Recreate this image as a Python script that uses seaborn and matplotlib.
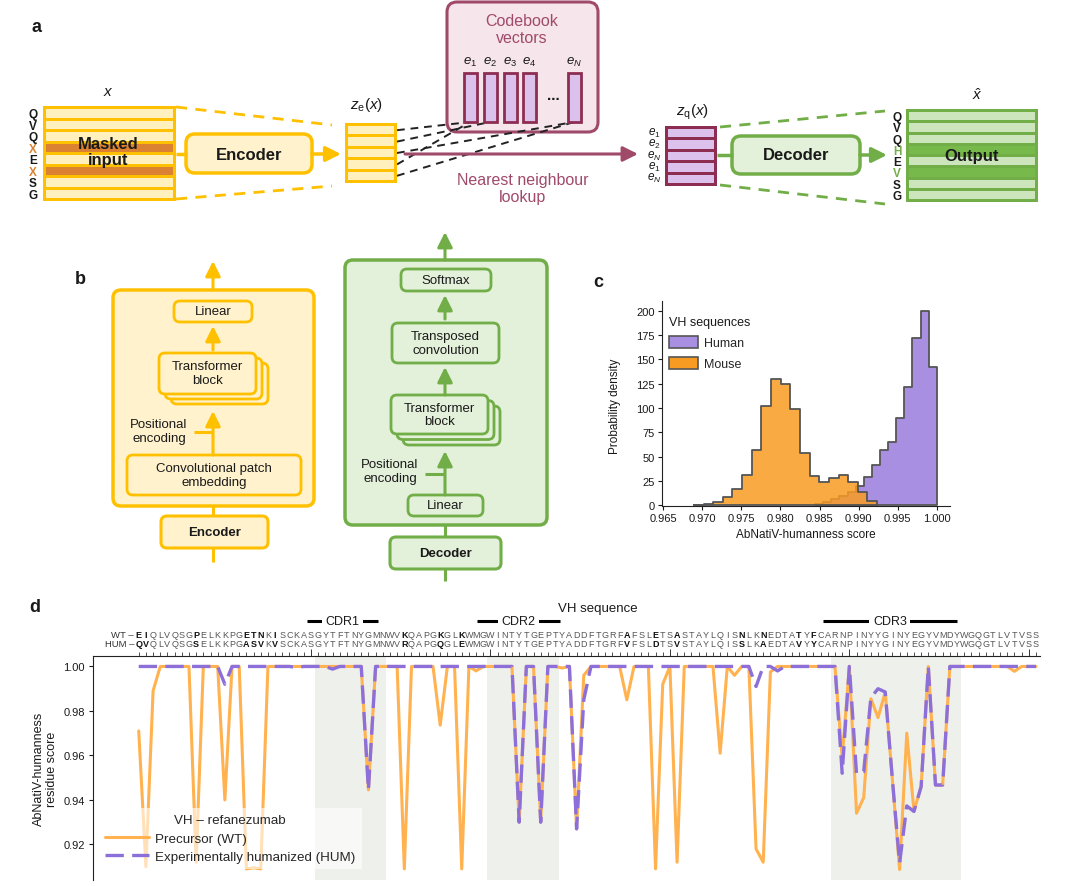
import numpy as np
import pandas as pd
import matplotlib
matplotlib.use('Agg')
import matplotlib.pyplot as plt
import matplotlib.transforms as mtransforms
from matplotlib.patches import FancyBboxPatch, Rectangle, Patch
from matplotlib.lines import Line2D
import seaborn as sns


# --- 1. Data ---
# panel c: histogram bins (probability density)
HUMAN_EDGES = [0.98444, 0.98548, 0.98651, 0.98755, 0.98859, 0.98963, 0.99066, 0.99170,
               0.99274, 0.99378, 0.99481, 0.99585, 0.99689, 0.99793, 0.99896, 1.00000]
HUMAN_DENSITY = [1, 3, 6, 10, 14, 20, 29, 41, 57, 65, 90, 122, 172, 200, 142]

MOUSE_EDGES = [0.96893, 0.97016, 0.97140, 0.97263, 0.97386, 0.97510, 0.97633, 0.97756,
               0.97879, 0.98003, 0.98126, 0.98249, 0.98373, 0.98496, 0.98619, 0.98743,
               0.98866, 0.98989, 0.99112, 0.99236]
MOUSE_DENSITY = [0.5, 1, 3, 8, 17, 31, 57, 102, 130, 125, 99, 54, 30, 24, 28, 31, 24, 14, 4]

# panel d: per-residue humanness scores
WT_SEQ = 'EIQLVQSGPELKKPGETNKISCKASGYTFTNYGMNWVKQAPGKGLKWMGWINTYTGEPTYADDFTGRFAFSLETSASTAYLQISNLKNEDTATYFCARNPINYYGINYEGYVMDYWGQGTLVTVSS'
HUM_SEQ = 'QVQLVQSGSELKKPGASVKVSCKASGYTFTNYGMNWVRQAPGQGLEWMGWINTYTGEPTYADDFTGRFVFSLDTSVSTAYLQISSLKAEDTAVYYCARNPINYYGINYEGYVMDYWGQGTLVTVSS'
RESIDUES = list(range(1, 127))

WT_SCORE = [
    0.971, 0.910, 0.989, 1.0, 1.0, 1.0, 1.0, 1.0, 0.912, 1.0,
    1.0, 1.0, 0.940, 1.0, 1.0, 0.909, 0.9095, 0.909, 1.0, 1.0,
    1.0, 1.0, 1.0, 1.0, 1.0, 1.0, 1.0, 1.0, 1.0, 1.0,
    1.0, 1.0, 0.9445, 1.0, 1.0, 1.0, 1.0, 0.909, 1.0, 1.0,
    1.0, 1.0, 0.9736, 1.0, 1.0, 0.909, 1.0, 0.998, 1.0, 1.0,
    1.0, 1.0, 1.0, 0.930, 1.0, 1.0, 0.930, 1.0, 1.0, 0.9993,
    1.0, 0.927, 0.996, 1.0, 1.0, 1.0, 1.0, 1.0, 0.985, 1.0,
    1.0, 1.0, 0.909, 0.992, 1.0, 0.912, 1.0, 1.0, 1.0, 1.0,
    1.0, 0.961, 1.0, 0.996, 1.0, 1.0, 0.918, 0.912, 0.9975, 1.0,
    1.0, 1.0, 1.0, 1.0, 1.0, 1.0, 1.0, 1.0, 0.959, 1.0,
    0.934, 0.941, 0.9855, 0.977, 0.9885, 0.949, 0.9087, 0.970, 0.935, 0.946,
    1.0, 0.9467, 0.9467, 1.0, 1.0, 1.0, 1.0, 1.0, 1.0, 1.0,
    1.0, 1.0, 0.9978, 1.0, 1.0, 1.0]

HUM_SCORE = [
    1.0, 1.0, 1.0, 1.0, 1.0, 1.0, 1.0, 1.0, 1.0, 1.0,
    1.0, 1.0, 0.992, 1.0, 1.0, 1.0, 1.0, 1.0, 1.0, 1.0,
    1.0, 1.0, 0.9995, 1.0, 1.0, 1.0, 1.0, 0.9988, 1.0, 1.0,
    1.0, 1.0, 0.9445, 1.0, 1.0, 1.0, 1.0, 1.0, 1.0, 1.0,
    1.0, 1.0, 1.0, 1.0, 1.0, 1.0, 1.0, 1.0, 1.0, 1.0,
    1.0, 1.0, 1.0, 0.930, 1.0, 1.0, 0.930, 1.0, 1.0, 1.0,
    1.0, 0.927, 0.985, 1.0, 1.0, 1.0, 1.0, 1.0, 1.0, 1.0,
    1.0, 1.0, 1.0, 1.0, 1.0, 1.0, 1.0, 1.0, 1.0, 1.0,
    1.0, 1.0, 1.0, 1.0, 1.0, 1.0, 0.991, 1.0, 1.0, 0.998,
    1.0, 1.0, 1.0, 1.0, 1.0, 1.0, 1.0, 1.0, 0.952, 1.0,
    0.9516, 0.9527, 0.986, 0.990, 0.9885, 0.949, 0.9116, 0.9373, 0.9348, 0.946,
    1.0, 0.9467, 0.9467, 1.0, 1.0, 1.0, 1.0, 1.0, 1.0, 1.0,
    1.0, 1.0, 1.0, 1.0, 1.0, 1.0]

# CDR shaded regions and label bars (residue coordinates)
CDR_NAMES = ['CDR1', 'CDR2', 'CDR3']
CDR_SHADE = [(25.5, 35.5), (49.5, 59.5), (97.5, 115.5)]
CDR_BARS = [(24.4, 34.3), (48.1, 59.7), (96.3, 115.0)]

# --- 2. Style ---
sns.set_theme(style='ticks')
plt.rcParams['font.family'] = ['Liberation Sans', 'DejaVu Sans']
plt.rcParams['mathtext.fontset'] = 'custom'
plt.rcParams['mathtext.rm'] = 'Liberation Sans'
plt.rcParams['mathtext.it'] = 'Liberation Sans:italic'
plt.rcParams['mathtext.bf'] = 'Liberation Sans:bold'
plt.rcParams['axes.linewidth'] = 0.8
plt.rcParams['axes.edgecolor'] = '#222222'

YEL_EDGE = '#ffc000'
YEL_FILL = '#fff0bd'
YEL_BOX = '#fff2cc'
MASK = '#da8231'
MAROON = '#a04a6a'
MAROON_DK = '#8e2d52'
LAV = '#dcc1ec'
PINK = '#f6e5ea'
GRN_EDGE = '#72ae48'
GRN_FILL = '#cde5bd'
GRN_BOX = '#e3f0da'
GRN_HI = '#78b94c'
ORANGE = '#ffb24f'
PURPLE = '#8d6fd9'
HIST_PURPLE = '#a98fe2'
HIST_ORANGE = '#f89b22'
SHADE = '#eef0ec'
TXT = '#1a1a1a'

fig = plt.figure(figsize=(10.8, 8.87), dpi=100)

# schematic canvas in pixel units
ax0 = fig.add_axes([0, 0, 1, 1])
ax0.set_xlim(0, 1080)
ax0.set_ylim(887, 0)
ax0.axis('off')


def txt(x, y, s, size=9, **kw):
    kw.setdefault('ha', 'center')
    kw.setdefault('va', 'center')
    kw.setdefault('color', TXT)
    ax0.text(x, y, s, fontsize=size, **kw)


def rbox(x0, y0, x1, y1, fc, ec, lw=2.0, r=6, z=2):
    ax0.add_patch(FancyBboxPatch((x0, y0), x1 - x0, y1 - y0,
                                 boxstyle=f'round,pad=0,rounding_size={r}',
                                 fc=fc, ec=ec, lw=lw, zorder=z))


def arrow(x0, y0, x1, y1, c, lw=2.0):
    ax0.annotate('', xy=(x1, y1), xytext=(x0, y0),
                 arrowprops=dict(arrowstyle='-|>,head_length=0.9,head_width=0.45',
                                 mutation_scale=10, color=c, lw=lw,
                                 shrinkA=0, shrinkB=0), zorder=3)


def seg(x0, y0, x1, y1, c, lw=2.0, ls='-', z=3):
    ax0.plot([x0, x1], [y0, y1], color=c, lw=lw, ls=ls, zorder=z,
             solid_capstyle='butt', dash_capstyle='butt')


def stripes(x0, y0, x1, y1, n, ec, fc, hi=(), hc=None, g=3):
    ax0.add_patch(Rectangle((x0, y0), x1 - x0, y1 - y0, fc=ec, ec='none', zorder=2))
    sh = (y1 - y0 - (n + 1) * g) / n
    centres = []
    for k in range(n):
        top = y0 + g + k * (sh + g)
        ax0.add_patch(Rectangle((x0 + g, top), x1 - x0 - 2 * g, sh,
                                fc=hc if k in hi else fc, ec='none', zorder=2))
        centres.append(top + sh / 2)
    return centres


# --- 3. Panel a ---
txt(37, 27, 'a', 13, fontweight='bold')

txt(108, 92, r'$x$', 11)
rows = stripes(43, 107, 176, 202, 8, YEL_EDGE, YEL_FILL, hi=(3, 5), hc=MASK)
for y, ch in zip(rows, 'QVQXEXSG'):
    txt(33, y + 1, ch, 8.5, fontweight='bold', color=MASK if ch == 'X' else TXT)
txt(108, 152.5, 'Masked\ninput', 12, fontweight='bold', linespacing=1.05, zorder=4)

seg(176, 108, 332, 126, YEL_EDGE, 2.0, (0, (4, 3)))
seg(176, 200, 332, 187, YEL_EDGE, 2.0, (0, (4, 3)))

seg(176, 155, 187, 155, YEL_EDGE, 2.5)
rbox(186, 135, 312, 174, YEL_BOX, YEL_EDGE, lw=2.5, r=9)
txt(249, 155, 'Encoder', 12, fontweight='bold', zorder=4)
arrow(312, 155, 341, 155, YEL_EDGE, 2.5)

txt(366, 105, r'$z_\mathrm{e}(x)$', 11)
ze_rows = stripes(345, 124, 397, 184, 5, YEL_EDGE, YEL_FILL)

# codebook
rbox(447, 3, 598, 133, PINK, MAROON, lw=2.2, r=10, z=1)
txt(522, 30, 'Codebook\nvectors', 11.5, color=MAROON, linespacing=1.15)
bar_x = [470, 490, 510, 529.5, 574]
for bx, lab in zip(bar_x, [r'$e_1$', r'$e_2$', r'$e_3$', r'$e_4$', r'$e_N$']):
    ax0.add_patch(Rectangle((bx - 6.5, 74), 13, 49, fc=LAV, ec=MAROON_DK, lw=2, zorder=2))
    txt(bx, 62, lab, 9.5)
txt(553, 96, '...', 11, fontweight='bold')

for y, tx in zip(ze_rows, [470, 490, 574, 470, 574]):
    seg(397, y, tx, 123, '#222222', 1.4, (0, (4, 3)), z=1.5)

arrow(405, 155, 638, 155, MAROON, 2.2)
txt(523, 189, 'Nearest neighbour\nlookup', 11.5, color=MAROON, linespacing=1.2)

txt(692, 112, r'$z_\mathrm{q}(x)$', 11)
zq_rows = stripes(665, 127, 717, 187, 5, MAROON_DK, LAV)
for y, lab in zip(zq_rows, [r'$e_1$', r'$e_2$', r'$e_N$', r'$e_1$', r'$e_N$']):
    txt(654, y - 1, lab, 8.5)

seg(720, 128, 885, 112, GRN_EDGE, 2.0, (0, (4, 3)))
seg(720, 186, 885, 205, GRN_EDGE, 2.0, (0, (4, 3)))
seg(717, 156, 733, 156, GRN_EDGE, 2.5)
rbox(732, 137, 860, 175, GRN_BOX, GRN_EDGE, lw=2.5, r=9)
txt(796, 156, 'Decoder', 12, fontweight='bold', zorder=4)
arrow(860, 156, 887, 156, GRN_EDGE, 2.5)

txt(977, 95, r'$\hat{x}$', 11)
out_rows = stripes(906, 110, 1038, 203, 8, GRN_EDGE, GRN_FILL, hi=(3, 5), hc=GRN_HI)
for k, (y, ch) in enumerate(zip(out_rows, 'QVQHEVSG')):
    txt(897, y + 1, ch, 8.5, fontweight='bold', color=GRN_EDGE if k in (3, 5) else TXT)
txt(972, 156, 'Output', 12, fontweight='bold', zorder=4)

# --- 4. Panel b ---
txt(80, 280, 'b', 13, fontweight='bold')

# encoder stack
rbox(113, 291, 314, 507, YEL_BOX, YEL_EDGE, lw=2.5, r=8, z=1)
arrow(213, 291, 213, 262, YEL_EDGE, 2.2)
rbox(174, 302, 252, 323, YEL_BOX, YEL_EDGE, lw=2)
txt(213, 312.5, 'Linear', 9.5)
arrow(213, 351, 213, 327, YEL_EDGE, 2.2)
for dx, dy in [(12, 10), (6, 5), (0, 0)]:
    rbox(159 + dx, 354 + dy, 256 + dx, 395 + dy, YEL_BOX, YEL_EDGE, lw=2)
txt(207.5, 374, 'Transformer\nblock', 9.5, linespacing=1.15, zorder=4)
txt(159, 432, 'Positional\nencoding', 9.5, linespacing=1.15)
seg(194, 433, 213, 433, YEL_EDGE, 2.2)
arrow(213, 456, 213, 412, YEL_EDGE, 2.2)
rbox(127, 456, 301, 496, YEL_BOX, YEL_EDGE, lw=2)
txt(214, 476, 'Convolutional patch\nembedding', 9.5, linespacing=1.15)
seg(213, 507, 213, 517, YEL_EDGE, 2.2)
rbox(161, 517, 268, 549, YEL_BOX, YEL_EDGE, lw=2.2)
txt(214.5, 533, 'Encoder', 9.5, fontweight='bold')
seg(213, 549, 213, 563, YEL_EDGE, 2.2)

# decoder stack
rbox(345, 261, 547, 526, GRN_BOX, GRN_EDGE, lw=2.5, r=8, z=1)
arrow(445, 261, 445, 233, GRN_EDGE, 2.2)
rbox(401, 270, 491, 292, GRN_BOX, GRN_EDGE, lw=2)
txt(446, 281, 'Softmax', 9.5)
arrow(445, 320, 445, 296, GRN_EDGE, 2.2)
rbox(392, 324, 499, 364, GRN_BOX, GRN_EDGE, lw=2)
txt(445.5, 344, 'Transposed\nconvolution', 9.5, linespacing=1.15)
arrow(445, 396, 445, 368, GRN_EDGE, 2.2)
for dx, dy in [(12, 11), (6, 5.5), (0, 0)]:
    rbox(391 + dx, 396 + dy, 488 + dx, 435 + dy, GRN_BOX, GRN_EDGE, lw=2)
txt(439.5, 415.5, 'Transformer\nblock', 9.5, linespacing=1.15, zorder=4)
txt(390, 472, 'Positional\nencoding', 9.5, linespacing=1.15)
seg(425, 475, 445, 475, GRN_EDGE, 2.2)
arrow(445, 496, 445, 452, GRN_EDGE, 2.2)
rbox(408, 496, 483, 517, GRN_BOX, GRN_EDGE, lw=2)
txt(445.5, 506.5, 'Linear', 9.5)
seg(445, 526, 445, 538, GRN_EDGE, 2.2)
rbox(390, 538, 501, 570, GRN_BOX, GRN_EDGE, lw=2.2)
txt(445.5, 554, 'Decoder', 9.5, fontweight='bold')
seg(445, 570, 445, 582, GRN_EDGE, 2.2)

# --- 5. Panel c: histogram ---
txt(598, 283, 'c', 13, fontweight='bold')
ax_c = fig.add_axes([661.7 / 1080, 1 - 507 / 887, (950 - 661.7) / 1080, (507 - 301.7) / 887])
sns.histplot(x=HUMAN_EDGES[:-1], weights=HUMAN_DENSITY, bins=HUMAN_EDGES, element='step',
             fill=True, color=HIST_PURPLE, alpha=1.0, edgecolor='#555555', linewidth=1.3, ax=ax_c)
sns.histplot(x=MOUSE_EDGES[:-1], weights=MOUSE_DENSITY, bins=MOUSE_EDGES, element='step',
             fill=True, color=HIST_ORANGE, alpha=0.85, edgecolor='#555555', linewidth=1.3, ax=ax_c)
ax_c.set_xlim(0.9648, 1.0017)
ax_c.set_ylim(-0.8, 210.5)
ax_c.set_xticks([0.965, 0.970, 0.975, 0.980, 0.985, 0.990, 0.995, 1.000])
ax_c.set_xticklabels([f'{v:.3f}' for v in ax_c.get_xticks()])
ax_c.set_yticks(range(0, 201, 25))
ax_c.tick_params(labelsize=8, length=3, width=0.8, pad=2, colors=TXT)
sns.despine(ax=ax_c)
ax_c.set_xlabel('AbNatiV-humanness score', fontsize=8.5, color=TXT)
ax_c.set_ylabel('Probability density', fontsize=8.5, color=TXT)
ax_c.xaxis.set_label_coords(0.5, -0.105)
ax_c.yaxis.set_label_coords(-0.14, 0.49)
leg_c = ax_c.legend([Patch(fc=HIST_PURPLE, ec='#555555', lw=1.2),
                     Patch(fc=HIST_ORANGE, ec='#555555', lw=1.2)],
                    ['Human', 'Mouse'], title='VH sequences', loc='upper left',
                    bbox_to_anchor=(0.0, 0.96), frameon=False, fontsize=9, title_fontsize=9,
                    alignment='left', handlelength=2.3, handleheight=1.1,
                    handletextpad=0.5, labelspacing=0.6, borderaxespad=0.2)
leg_c.get_title().set_color(TXT)

# --- 6. Panel d: residue scores ---
txt(35, 608, 'd', 13, fontweight='bold')
ax_d = fig.add_axes([93 / 1080, 1 - 881 / 887, (1040 - 93) / 1080, (881 - 657) / 887])
for lo, hi in CDR_SHADE:
    ax_d.axvspan(lo, hi, color=SHADE, lw=0, zorder=0)

sns.lineplot(x=RESIDUES, y=WT_SCORE, color=ORANGE, lw=2.2, errorbar=None, ax=ax_d, zorder=2)
sns.lineplot(x=RESIDUES, y=HUM_SCORE, color=PURPLE, lw=2.4, errorbar=None, ax=ax_d, zorder=3)
ax_d.get_lines()[-1].set_dashes([5.5, 2.5])

ax_d.set_xlim(-5.37, 126.56)
ax_d.set_ylim(0.904, 1.0047)
ax_d.spines['right'].set_visible(False)
ax_d.spines['bottom'].set_visible(False)
ax_d.xaxis.set_ticks_position('top')
ax_d.set_xticks([25, 50, 75, 100, 125])
ax_d.set_xticks(RESIDUES, minor=True)
ax_d.set_xticklabels([])
ax_d.tick_params(axis='x', which='major', top=True, bottom=False, length=5, width=0.7, colors='#333333')
ax_d.tick_params(axis='x', which='minor', top=True, bottom=False, length=3, width=0.6, colors='#333333')
ax_d.set_yticks([0.92, 0.94, 0.96, 0.98, 1.00])
ax_d.set_yticklabels([f'{v:.2f}' for v in ax_d.get_yticks()])
ax_d.tick_params(axis='y', labelsize=8, length=3, width=0.8, pad=3, colors=TXT)
ax_d.set_xlabel('')
ax_d.set_ylabel('AbNatiV-humanness\nresidue score', fontsize=9, color=TXT, linespacing=1.15)
ax_d.yaxis.set_label_coords(-0.037, 0.5)

trans = mtransforms.blended_transform_factory(ax_d.transData, ax_d.transAxes)
for i, (a, b) in enumerate(zip(WT_SEQ, HUM_SEQ), start=1):
    diff = a != b
    for ch, yy in ((a, 1.094), (b, 1.056)):
        ax_d.text(i, yy, ch, transform=trans, ha='center', va='center', fontsize=6.5,
                  fontweight='bold' if diff else 'normal',
                  color='#111111' if diff else '#555555', clip_on=False)
ax_d.text(0.35, 1.094, 'WT –', transform=trans, ha='right', va='center', fontsize=6.8, color='#333333')
ax_d.text(0.35, 1.056, 'HUM –', transform=trans, ha='right', va='center', fontsize=6.8, color='#333333')

for name, (lo, hi) in zip(CDR_NAMES, CDR_BARS):
    ax_d.plot([lo, hi], [1.157, 1.157], transform=trans, color='black', lw=2.2,
              clip_on=False, solid_capstyle='butt')
    ax_d.text((lo + hi) / 2, 1.157, name, transform=trans, ha='center', va='center',
              fontsize=9, color=TXT, bbox=dict(fc='white', ec='none', pad=2.5))
ax_d.text(0.533, 1.214, 'VH sequence', transform=ax_d.transAxes, ha='center', va='center',
          fontsize=9.5, color=TXT)

handles = [Line2D([], [], color=ORANGE, lw=2.2),
           Line2D([], [], color=PURPLE, lw=2.4, dashes=(5.5, 2.5))]
leg_d = ax_d.legend(handles, ['Precursor (WT)', 'Experimentally humanized (HUM)'],
                    title='VH – refanezumab', loc='lower left', bbox_to_anchor=(0.006, 0.049),
                    borderaxespad=0, frameon=True, framealpha=0.6, facecolor='white',
                    edgecolor='none', fancybox=False, fontsize=9.6, title_fontsize=9.6,
                    handlelength=3.3, handletextpad=0.5, labelspacing=0.45, borderpad=0.45)
leg_d.set_zorder(5)

fig.savefig('out.png', dpi=100)
